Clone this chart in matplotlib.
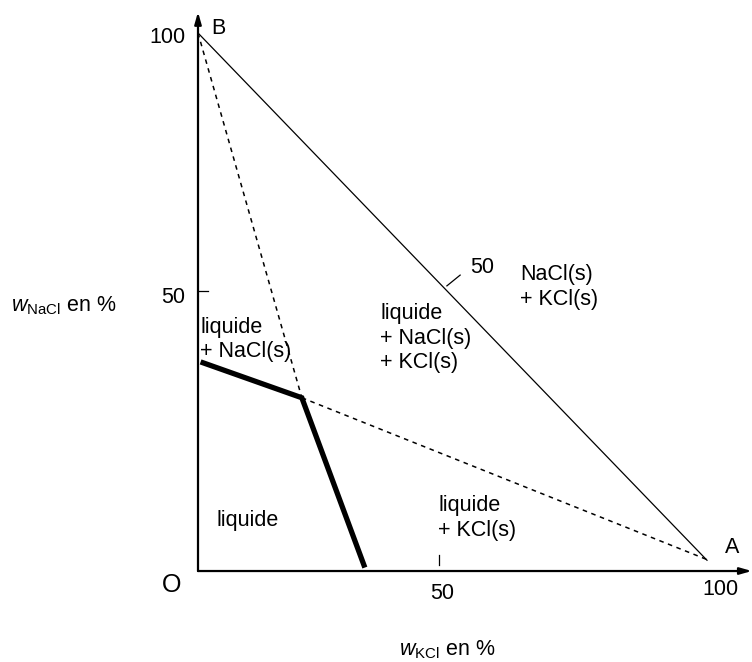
import matplotlib
matplotlib.use('Agg')
import matplotlib.pyplot as plt

plt.rcParams['font.family'] = ['Liberation Sans', 'DejaVu Sans']
plt.rcParams['mathtext.fontset'] = 'custom'
plt.rcParams['mathtext.rm'] = 'Liberation Sans'
plt.rcParams['mathtext.it'] = 'Liberation Sans:italic'

# corners of the triangle (w_KCl, w_NaCl in %)
point_B = [0, 100]
point_A = [100, 2]
point_E = [20.4, 32.2]   # point where the three domains meet

# thick line: liquid saturation curves
curve_x = [1.0, 20.4, 32.6]
curve_y = [38.7, 32.2, 1.1]

# positions of the "50" marks as read on the drawing
tick_x50 = 47.3
tick_y50 = 52.0
hyp_tick_x = [48.9, 51.5]
hyp_tick_y = [53.0, 55.0]

labels = {
    'liquide\n+ NaCl(s)': (0.4, 43.1),
    'liquide\n+ NaCl(s)\n+ KCl(s)': (35.8, 43.3),
    'NaCl(s)\n+ KCl(s)': (63.3, 52.8),
    'liquide\n+ KCl(s)': (47.2, 9.85),
    'liquide': (3.7, 9.3),
}

fig = plt.figure(figsize=(7.52, 6.62), dpi=100)
ax = fig.add_axes([0, 0, 1, 1])
ax.set_xlim(-38.9, 108.84)
ax.set_ylim(-16.91, 106.13)
ax.axis('off')

fs = 15.5

# axes with arrows
ax.annotate('', xy=(108.8, 0), xytext=(0, 0),
            arrowprops=dict(arrowstyle='-|>,head_length=0.7,head_width=0.2', color='black', lw=1.6,
                            shrinkA=0, shrinkB=0))
ax.annotate('', xy=(0, 103.9), xytext=(0, 0),
            arrowprops=dict(arrowstyle='-|>,head_length=0.7,head_width=0.2', color='black', lw=1.6,
                            shrinkA=0, shrinkB=0))

# B-A side
ax.plot([point_B[0], point_A[0]], [point_B[1], point_A[1]], color='black', lw=0.9)
# dashed lines from E to the corners
ax.plot([point_B[0], point_E[0]], [point_B[1], point_E[1]], color='black', lw=1.1, linestyle=(0, (3, 3)))
ax.plot([point_E[0], point_A[0] + 0.6], [point_E[1], point_A[1] - 0.1], color='black', lw=1.1,
        linestyle=(0, (3, 3)))
# saturation curves
ax.plot(curve_x, curve_y, color='black', lw=3.8, solid_joinstyle='miter')

# tick marks
ax.plot([tick_x50, tick_x50], [1.1, 2.97], color='black', lw=0.9)
ax.plot([0, 2.0], [tick_y50, tick_y50], color='black', lw=0.9)
ax.plot(hyp_tick_x, hyp_tick_y, color='black', lw=0.9)

# tick labels and corner names
ax.text(-2.55, 99.1, '100', fontsize=fs, ha='right', va='center')
ax.text(-2.55, 50.9, '50', fontsize=fs, ha='right', va='center')
ax.text(47.9, -4.1, '50', fontsize=fs, ha='center', va='center')
ax.text(102.6, -3.5, '100', fontsize=fs, ha='center', va='center')
ax.text(55.8, 56.5, '50', fontsize=fs, ha='center', va='center')
ax.text(-5.1, -2.6, 'O', fontsize=18, ha='center', va='center')
ax.text(4.1, 100.9, 'B', fontsize=fs, ha='center', va='center')
ax.text(104.9, 4.3, 'A', fontsize=fs, ha='center', va='center')

# axis titles
ax.text(-36.7, 49.4, r'$w_{\mathrm{NaCl}}$ en %', fontsize=fs, ha='left', va='center')
ax.text(48.9, -14.7, r'$w_{\mathrm{KCl}}$ en %', fontsize=fs, ha='center', va='center')

# domain names
for txt, (x, y) in labels.items():
    ax.text(x, y, txt, fontsize=fs, ha='left', va='center', linespacing=1.2)

fig.savefig('out.png', dpi=100)
